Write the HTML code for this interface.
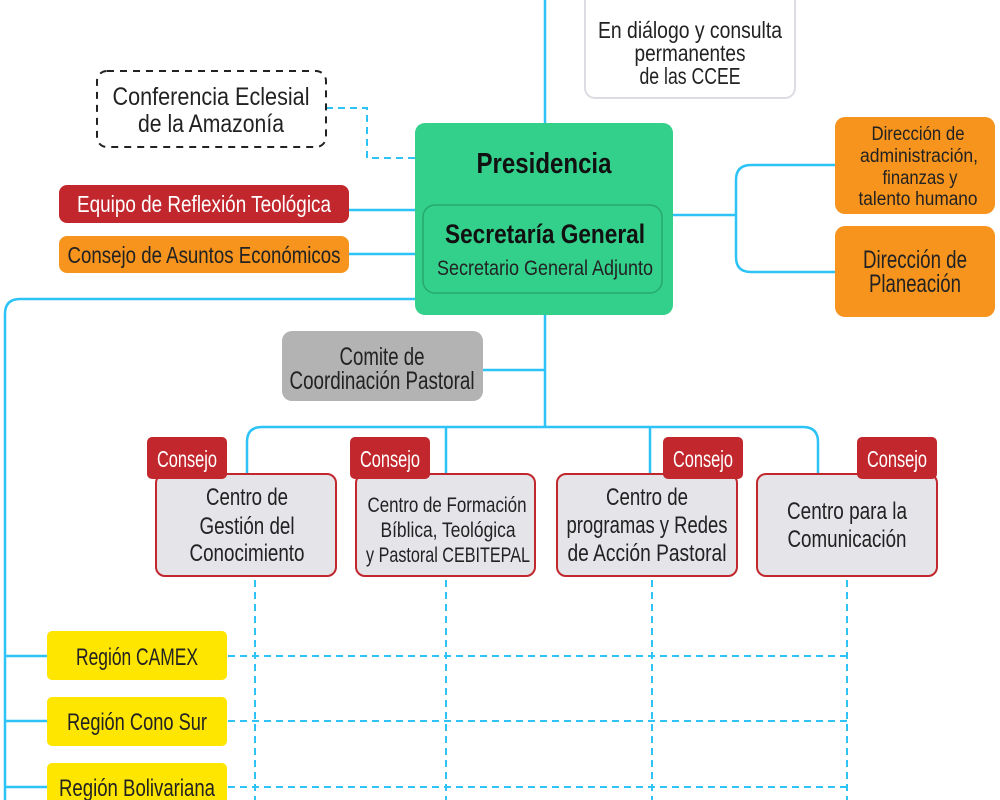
<!DOCTYPE html>
<html><head><meta charset="utf-8"><style>
html,body{margin:0;padding:0;background:#fff;width:1000px;height:800px;overflow:hidden}
text{font-family:"Liberation Sans Narrow","Liberation Sans",sans-serif;text-anchor:middle}
</style></head><body>
<svg width="1000" height="800" viewBox="0 0 1000 800" xmlns="http://www.w3.org/2000/svg">
<g fill="none" stroke="#2ec3f7" stroke-width="2.5">
<line x1="545" y1="0" x2="545" y2="427"/>
<path d="M415 299 H20 Q5 299 5 314 V800"/>
<line x1="5" y1="656" x2="47" y2="656"/>
<line x1="5" y1="721" x2="47" y2="721"/>
<line x1="5" y1="787" x2="47" y2="787"/>
<line x1="349" y1="210" x2="415" y2="210"/>
<line x1="349" y1="254" x2="415" y2="254"/>
<line x1="483" y1="370" x2="545" y2="370"/>
<line x1="673" y1="215" x2="736" y2="215"/>
<path d="M835 165 H751 Q736 165 736 180 V257 Q736 272 751 272 H835"/>
<path d="M247 475 V442 Q247 427 262 427 H803 Q818 427 818 442 V475"/>
<line x1="446" y1="427" x2="446" y2="475"/>
<line x1="650" y1="427" x2="650" y2="475"/>
</g>
<g fill="none" stroke="#2ec3f7" stroke-width="2" stroke-dasharray="7,5">
<path d="M326 108 H367 V158 H415"/>
<line x1="255" y1="580" x2="255" y2="800"/>
<line x1="446" y1="580" x2="446" y2="800"/>
<line x1="652" y1="580" x2="652" y2="800"/>
<line x1="847" y1="580" x2="847" y2="800"/>
<line x1="228" y1="656" x2="847" y2="656"/>
<line x1="228" y1="721" x2="847" y2="721"/>
<line x1="228" y1="787" x2="847" y2="787"/>
</g>
<!-- En dialogo -->
<rect x="585" y="-10" width="210" height="108" rx="10" fill="#fff" stroke="#dcdce2" stroke-width="2"/>
<g font-size="23" fill="#222">
<text x="690" y="38" textLength="184" lengthAdjust="spacingAndGlyphs">En diálogo y consulta</text>
<text x="690" y="61" textLength="111" lengthAdjust="spacingAndGlyphs">permanentes</text>
<text x="690" y="84" textLength="101" lengthAdjust="spacingAndGlyphs">de las CCEE</text>
</g>
<!-- Conferencia -->
<rect x="97" y="71" width="229" height="76" rx="10" fill="#fff" stroke="#222" stroke-width="2" stroke-dasharray="7,6"/>
<g font-size="25" fill="#222">
<text x="211" y="105" textLength="197" lengthAdjust="spacingAndGlyphs">Conferencia Eclesial</text>
<text x="211" y="132" textLength="146" lengthAdjust="spacingAndGlyphs">de la Amazonía</text>
</g>
<!-- Presidencia -->
<rect x="415" y="123" width="258" height="192" rx="10" fill="#33d08c"/>
<rect x="423" y="205" width="239" height="88" rx="12" fill="none" stroke="#27a86f" stroke-width="1.5"/>
<text x="544" y="173" font-size="29" font-weight="bold" fill="#111" textLength="135" lengthAdjust="spacingAndGlyphs">Presidencia</text>
<text x="545" y="243" font-size="27" font-weight="bold" fill="#111" textLength="200" lengthAdjust="spacingAndGlyphs">Secretaría General</text>
<text x="545" y="275" font-size="21" fill="#222" textLength="216" lengthAdjust="spacingAndGlyphs">Secretario General Adjunto</text>
<!-- left items -->
<rect x="59" y="185" width="290" height="38" rx="8" fill="#c1272d"/>
<text x="204" y="212" font-size="23" fill="#fff" textLength="254" lengthAdjust="spacingAndGlyphs">Equipo de Reflexión Teológica</text>
<rect x="59" y="236" width="290" height="37" rx="8" fill="#f7941d"/>
<text x="204" y="263" font-size="23" fill="#222" textLength="273" lengthAdjust="spacingAndGlyphs">Consejo de Asuntos Económicos</text>
<!-- right orange -->
<rect x="835" y="117" width="160" height="97" rx="10" fill="#f7941d"/>
<g font-size="19" fill="#222">
<text x="918" y="140" textLength="93" lengthAdjust="spacingAndGlyphs">Dirección de</text>
<text x="919" y="162" textLength="118" lengthAdjust="spacingAndGlyphs">administración,</text>
<text x="920" y="184" textLength="75" lengthAdjust="spacingAndGlyphs">finanzas y</text>
<text x="918" y="205" textLength="119" lengthAdjust="spacingAndGlyphs">talento humano</text>
</g>
<rect x="835" y="226" width="160" height="91" rx="10" fill="#f7941d"/>
<g font-size="25" fill="#222">
<text x="915" y="268" textLength="104" lengthAdjust="spacingAndGlyphs">Dirección de</text>
<text x="915" y="292" textLength="92" lengthAdjust="spacingAndGlyphs">Planeación</text>
</g>
<!-- Comite -->
<rect x="282" y="331" width="201" height="70" rx="10" fill="#b3b3b3"/>
<g font-size="25" fill="#222">
<text x="382" y="365" textLength="85" lengthAdjust="spacingAndGlyphs">Comite de</text>
<text x="382" y="389" textLength="185" lengthAdjust="spacingAndGlyphs">Coordinación Pastoral</text>
</g>
<!-- centers -->
<g fill="#e4e4e9" stroke="#c1272d" stroke-width="2">
<rect x="156" y="474" width="180" height="102" rx="9"/>
<rect x="356" y="474" width="179" height="102" rx="9"/>
<rect x="557" y="474" width="180" height="102" rx="9"/>
<rect x="757" y="474" width="180" height="102" rx="9"/>
</g>
<g fill="#c1272d">
<rect x="147" y="437" width="80" height="42" rx="5"/>
<rect x="350" y="437" width="80" height="42" rx="5"/>
<rect x="663" y="437" width="80" height="42" rx="5"/>
<rect x="857" y="437" width="80" height="42" rx="5"/>
</g>
<g font-size="23" fill="#fff">
<text x="187" y="467" textLength="60" lengthAdjust="spacingAndGlyphs">Consejo</text>
<text x="390" y="467" textLength="60" lengthAdjust="spacingAndGlyphs">Consejo</text>
<text x="703" y="467" textLength="60" lengthAdjust="spacingAndGlyphs">Consejo</text>
<text x="897" y="467" textLength="60" lengthAdjust="spacingAndGlyphs">Consejo</text>
</g>
<g font-size="24" fill="#222">
<text x="247" y="505" textLength="82" lengthAdjust="spacingAndGlyphs">Centro de</text>
<text x="247" y="534" textLength="95" lengthAdjust="spacingAndGlyphs">Gestión del</text>
<text x="247" y="561" textLength="115" lengthAdjust="spacingAndGlyphs">Conocimiento</text>
<text x="647" y="505" textLength="82" lengthAdjust="spacingAndGlyphs">Centro de</text>
<text x="647" y="533" textLength="161" lengthAdjust="spacingAndGlyphs">programas y Redes</text>
<text x="647" y="561" textLength="159" lengthAdjust="spacingAndGlyphs">de Acción Pastoral</text>
<text x="847" y="519" textLength="120" lengthAdjust="spacingAndGlyphs">Centro para la</text>
<text x="847" y="547" textLength="119" lengthAdjust="spacingAndGlyphs">Comunicación</text>
</g>
<g font-size="21" fill="#222">
<text x="447" y="512" textLength="159" lengthAdjust="spacingAndGlyphs">Centro de Formación</text>
<text x="448" y="537" textLength="135" lengthAdjust="spacingAndGlyphs">Bíblica, Teológica</text>
<text x="448" y="562" textLength="164" lengthAdjust="spacingAndGlyphs">y Pastoral CEBITEPAL</text>
</g>
<!-- regions -->
<g fill="#ffe600">
<rect x="47" y="631" width="180" height="49" rx="5"/>
<rect x="47" y="697" width="180" height="49" rx="5"/>
<rect x="47" y="763" width="180" height="49" rx="5"/>
</g>
<g font-size="24" fill="#222">
<text x="137" y="665" textLength="122" lengthAdjust="spacingAndGlyphs">Región CAMEX</text>
<text x="137" y="730" textLength="140" lengthAdjust="spacingAndGlyphs">Región Cono Sur</text>
<text x="137" y="796" textLength="156" lengthAdjust="spacingAndGlyphs">Región Bolivariana</text>
</g>
</svg>
</body></html>
